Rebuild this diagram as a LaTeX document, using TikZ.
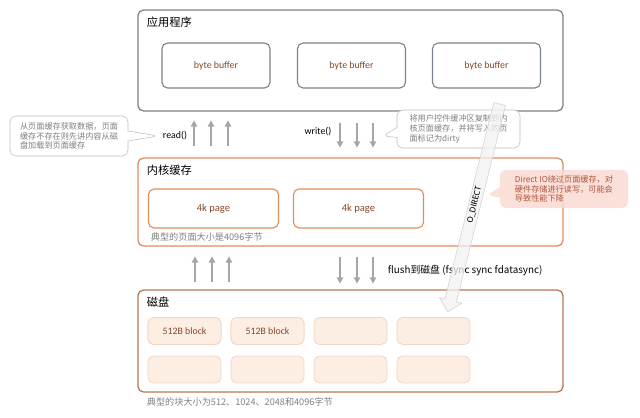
\documentclass[tikz,border=0pt]{standalone}
\usepackage{fontspec}
\setmainfont{Noto Sans CJK SC}
\newfontfamily\latinfont{Carlito}
\usetikzlibrary{arrows.meta, shapes.callouts, shapes.arrows}
\definecolor{appgray}{RGB}{122,130,140}
\definecolor{kernorange}{RGB}{226,140,92}
\definecolor{diskbrown}{RGB}{184,118,80}
\definecolor{blockfill}{RGB}{253,238,228}
\definecolor{blockline}{RGB}{244,214,196}
\definecolor{textbrown}{RGB}{130,72,40}
\definecolor{notegray}{RGB}{128,128,128}
\definecolor{pinkfill}{RGB}{250,218,210}
\definecolor{notered}{RGB}{176,84,58}

\begin{document}
\begin{tikzpicture}[x=0.025cm, y=-0.025cm,
  layer/.style={draw, rounded corners=4pt, line width=0.9pt, minimum width=10.625cm},
  title/.style={anchor=west, font=\fontsize{8}{9}\selectfont},
  bufbox/.style={draw=appgray, rounded corners=4pt, line width=0.8pt,
        minimum width=2.7cm, minimum height=1.125cm, text=textbrown,
        font=\latinfont\fontsize{7}{8}\selectfont},
  pagebox/.style={draw=kernorange, rounded corners=4pt, line width=0.8pt,
        minimum width=3.25cm, minimum height=0.975cm, text=textbrown,
        font=\latinfont\fontsize{7.5}{8}\selectfont},
  blockbox/.style={draw=blockline, fill=blockfill, rounded corners=4pt, line width=0.6pt,
        minimum width=1.825cm, minimum height=0.675cm, text=textbrown,
        font=\latinfont\fontsize{7}{8}\selectfont},
  note/.style={rectangle callout, rounded corners=4pt, align=left, inner sep=3pt,
        font=\fontsize{5.8}{7}\selectfont},
  caption/.style={anchor=west, text=notegray, font=\fontsize{6.5}{8}\selectfont},
  flow/.style={-{Triangle[width=4.5pt,length=4.5pt]}, line width=1.3pt, gray!70},
  oplabel/.style={font=\latinfont\fontsize{7}{8}\selectfont}]
  \useasboundingbox (0,0) rectangle (640,418);

  % layers
  \node[layer, draw=appgray, minimum height=2.525cm] (app) at (350.5,60.5) {};
  \node[title] (apptitle) at (142,22) {应用程序};
  \node[layer, draw=kernorange, minimum height=2.2cm] (kern) at (350.5,202) {};
  \node[title] (kerntitle) at (142,170) {内核缓存};
  \node[layer, draw=diskbrown, minimum height=2.55cm] (disk) at (350.5,341) {};
  \node[title] (disktitle) at (142,302) {磁盘};

  % buffers, pages, blocks
  \node[bufbox] (buf1) at (216,65.5) {byte buffer};
  \node[bufbox] (buf2) at (351.5,65.5) {byte buffer};
  \node[bufbox] (buf3) at (486.5,65.5) {byte buffer};
  \node[pagebox] (page1) at (213.5,208.5) {4k page};
  \node[pagebox] (page2) at (358.5,208.5) {4k page};
  \node[caption] (pagecap) at (146,237) {典型的页面大小是4096字节};
  \foreach \x [count=\i] in {184.5,267.5,350.5,433.5} {
    \node[blockbox] (blkA\i) at (\x,331) {};
    \node[blockbox] (blkB\i) at (\x,369.5) {};
  }
  \node[blockbox] at (blkA1) {512B block};
  \node[blockbox] at (blkA2) {512B block};
  \node[caption] (diskcap) at (142,402) {典型的块大小为512、1024、2048和4096字节};

  % read / write
  \node[oplabel] (readlbl) at (175,136) {read()};
  \node[oplabel] (writelbl) at (318,132) {write()};
  \foreach \x in {194,211,228}
    \draw[flow] (\x,0 |- kern.north) ++(0,-11) -- ++(0,-26);
  \foreach \x in {340,357,373}
    \draw[flow] (\x,0 |- app.south) ++(0,11) -- ++(0,25);

  % flush
  \foreach \x in {195,212,229}
    \draw[flow] (\x,0 |- disk.north) ++(0,-7) -- ++(0,-26);
  \foreach \x in {340,357,373}
    \draw[flow] (\x,0 |- kern.south) ++(0,10) -- ++(0,27);
  \node[anchor=west, font=\fontsize{7}{8}\selectfont] (flushlbl) at (383,270)
    {flush到磁盘 (fsync sync fdatasync)};

  % notes
  \coordinate (wtip) at (383,136);
  \coordinate (dtip) at (487,195);
  \node[note, draw=gray!50, fill=white, text=notegray, minimum width=2.95cm, minimum height=1cm,
        callout absolute pointer={(readlbl.west)}] (readnote) at (69,136)
    {从页面缓存获取数据，页面\\缓存不存在则先讲内容从磁\\盘加载到页面缓存};
  \node[note, draw=gray!50, fill=white, text=notegray, minimum width=3.075cm, minimum height=0.95cm,
        callout absolute pointer={(wtip)}] (writenote) at (458.5,129)
    {将用户控件缓冲区复制到内\\核页面缓存，并将写入的页\\面标记为dirty};

  % O_DIRECT
  \node[single arrow, rotate=76, shape border rotate=180, draw=gray!35, fill=gray!10,
        fill opacity=0.75, text opacity=1, minimum height=5.35cm, inner sep=1.5pt,
        single arrow head extend=4pt, font=\latinfont\fontsize{6.5}{7}\selectfont]
    (odirect) at (474.5,205) {O\_DIRECT};
  \node[note, fill=pinkfill, fill opacity=0.85, text opacity=1, text=notered,
        minimum width=3.2cm, minimum height=0.95cm,
        callout absolute pointer={(dtip)}] (directnote) at (564,189)
    {Direct IO绕过页面缓存，对\\硬件存储进行读写，可能会\\导致性能下降};
\end{tikzpicture}
\end{document}
